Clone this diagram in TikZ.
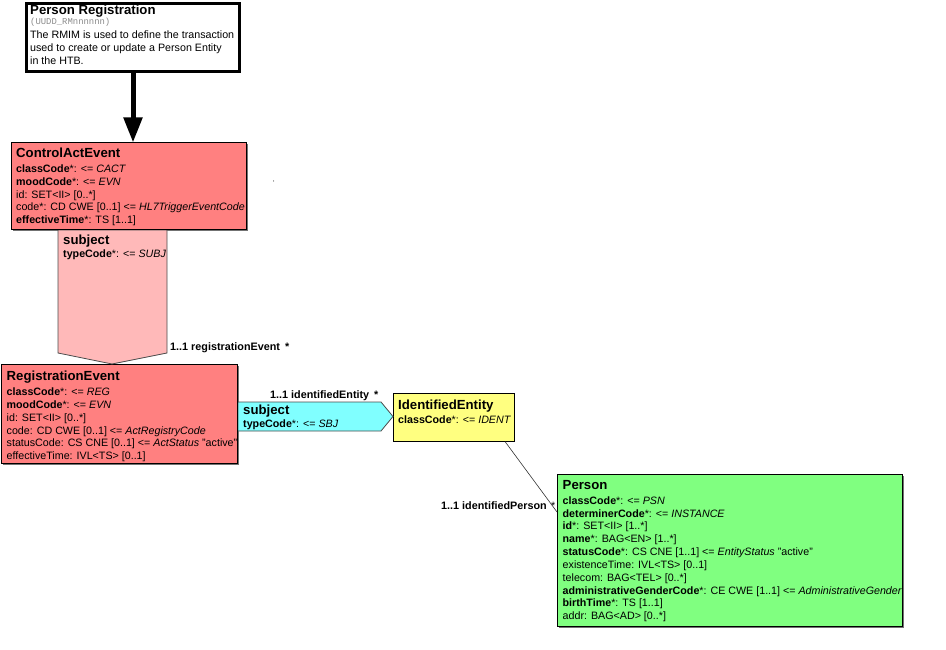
\documentclass[tikz,border=0pt]{standalone}
\usepackage{fontspec}
\setmainfont{Liberation Sans}
\newfontfamily\monof{Liberation Mono}
\usetikzlibrary{arrows.meta}
\definecolor{actred}{RGB}{255,128,128}
\definecolor{partpink}{RGB}{255,185,185}
\definecolor{roleyellow}{RGB}{255,255,128}
\definecolor{entgreen}{RGB}{128,255,128}
\definecolor{relcyan}{RGB}{128,255,255}
\tikzset{
  cls/.style={draw=black, line width=0.9pt, anchor=north west, inner sep=0pt, outer sep=0pt},
  shadowbox/.style={fill=black!55, draw=none, anchor=north west, inner sep=0pt},
  ttl/.style={font=\fontsize{13.2}{15}\selectfont\bfseries, anchor=base west, inner sep=0pt},
  att/.style={font=\fontsize{10.7}{12}\selectfont, anchor=base west, inner sep=0pt},
  rel/.style={draw=black!70, line width=0.8pt},
  lbl/.style={font=\fontsize{10.8}{12}\selectfont\bfseries, anchor=base west, inner sep=0pt},
}
\begin{document}
\begin{tikzpicture}[x=1pt,y=-1pt]
\useasboundingbox (0,0) rectangle (946,650);

% ---- Person Registration header box
\node[draw=black, line width=3pt, fill=white, anchor=north west, inner sep=0pt,
      minimum width=213pt, minimum height=68pt] (pr) at (25,2) {};
\node[ttl] (prt) at (30,14.5) {Person Registration};
\node[font=\monof\fontsize{8.9}{10}\selectfont, text=black!45, anchor=base west, inner sep=0pt] (prid) at (30,25) {(UUDD\_RMnnnnnn)};
\node[att] (prd1) at (30,38.5) {The RMIM is used to define the transaction};
\node[att] (prd2) at (30,51.5) {used to create or update a Person Entity};
\node[att] (prd3) at (30,64.5) {in the HTB.};

% ---- ControlActEvent
\node[shadowbox, minimum width=235pt, minimum height=87pt] (caes) at (12.5,144) {};
\node[cls, fill=actred, minimum width=235pt, minimum height=87pt] (cae) at (11,142.5) {};
\node[ttl] (caet) at (16,158) {ControlActEvent};
\node[att] (cae1) at (16,173) {\textbf{classCode}*: <= \textit{CACT}};
\node[att] (cae2) at (16,185.8) {\textbf{moodCode}*: <= \textit{EVN}};
\node[att] (cae3) at (16,198.3) {id: SET<II> [0..*]};
\node[att] (cae4) at (16,210.9) {code*: CD CWE [0..1] <= \textit{HL7TriggerEventCode}};
\node[att] (cae5) at (16,223.5) {\textbf{effectiveTime}*: TS [1..1]};

% ---- thick arrow
\draw[line width=5pt, -{Triangle[length=25pt,width=18pt]}] (pr.south) -- (pr.south |- cae.north);

% ---- RegistrationEvent
\node[shadowbox, minimum width=236pt, minimum height=99pt] (res) at (2.5,365.5) {};
\node[cls, fill=actred, minimum width=236pt, minimum height=99pt] (re) at (1,364) {};
\node[ttl] (ret) at (6.5,380) {RegistrationEvent};
\node[att] (re1) at (6.5,395.8) {\textbf{classCode}*: <= \textit{REG}};
\node[att] (re2) at (6.5,408.5) {\textbf{moodCode}*: <= \textit{EVN}};
\node[att] (re3) at (6.5,421.2) {id: SET<II> [0..*]};
\node[att] (re4) at (6.5,434) {code: CD CWE [0..1] <= \textit{ActRegistryCode}};
\node[att] (re5) at (6.5,446.7) {statusCode: CS CNE [0..1] <= \textit{ActStatus} "active"};
\node[att] (re6) at (6.5,459.4) {effectiveTime: IVL<TS> [0..1]};

% ---- subject participation (pink, pointing down)
\coordinate (pa) at (58,230);
\coordinate (pb) at (167,230);
\coordinate (pc) at (167,353);
\coordinate (ptip) at (112,364);
\coordinate (pd) at (58,353);
\draw[rel, fill=partpink] (pa) -- (pb) -- (pc) -- (ptip) -- (pd) -- cycle;
\draw[line width=0.9pt] (cae.south west) -- (cae.south east);
\node[ttl] (subj1) at (63,244) {subject};
\node[att] (subj1a) at (63,257.8) {\textbf{typeCode}*: <= \textit{SUBJ}};
\node[lbl] (subj1l) at (170,350.5) {1..1 registrationEvent\hspace{5pt}*};

% ---- IdentifiedEntity
\node[cls, fill=roleyellow, minimum width=121pt, minimum height=48pt] (ie) at (393,393.5) {};
\node[ttl] (iet) at (398,409.5) {IdentifiedEntity};
\node[att] (ie1) at (398,423.5) {\textbf{classCode}*: <= \textit{IDENT}};

% ---- subject (cyan, pointing right)
\coordinate (ca) at (238,402);
\coordinate (cb) at (381,402);
\coordinate (ctip) at (393,416.5);
\coordinate (cc) at (381,431);
\coordinate (cd) at (238,431);
\draw[rel, fill=relcyan] (ca) -- (cb) -- (ctip) -- (cc) -- (cd) -- cycle;
\draw[line width=0.9pt] (re.north east) -- (re.south east);
\node[ttl] (subj2) at (243,414.5) {subject};
\node[att] (subj2a) at (243,427.8) {\textbf{typeCode}*: <= \textit{SBJ}};
\node[lbl] (subj2l) at (270,398.5) {1..1 identifiedEntity\hspace{5pt}*};

% ---- Person
\node[shadowbox, minimum width=345pt, minimum height=152pt] (ps) at (558.5,475.5) {};
\node[cls, fill=entgreen, minimum width=345pt, minimum height=152pt] (p) at (557,474) {};
\node[ttl] (pt) at (562.5,489.5) {Person};
\node[att] (p1) at (562.5,504.2) {\textbf{classCode}*: <= \textit{PSN}};
\node[att] (p2) at (562.5,517) {\textbf{determinerCode}*: <= \textit{INSTANCE}};
\node[att] (p3) at (562.5,529.9) {\textbf{id}*: SET<II> [1..*]};
\node[att] (p4) at (562.5,542.7) {\textbf{name}*: BAG<EN> [1..*]};
\node[att] (p5) at (562.5,555.5) {\textbf{statusCode}*: CS CNE [1..1] <= \textit{EntityStatus} "active"};
\node[att] (p6) at (562.5,568.4) {existenceTime: IVL<TS> [0..1]};
\node[att] (p7) at (562.5,581.2) {telecom: BAG<TEL> [0..*]};
\node[att] (p8) at (562.5,594) {\textbf{administrativeGenderCode}*: CE CWE [1..1] <= \textit{AdministrativeGender}};
\node[att] (p9) at (562.5,606.8) {\textbf{birthTime}*: TS [1..1]};
\node[att] (p10) at (562.5,619.7) {addr: BAG<AD> [0..*]};

% ---- association IdentifiedEntity -> Person
\coordinate (pinref) at (0,512);
\draw[black!80, line width=0.6pt] (ie.south west) ++(112,0) coordinate (iex) -- (p.west |- pinref) coordinate (pin);
\node[lbl] (ipl) at (441,509) {1..1 identifiedPerson};
\node[font=\fontsize{10.7}{12}\selectfont, anchor=base west, inner sep=0pt] (ipstar) at (551,509) {*};

% stray dot
\fill[black] (273.5,181) circle (0.5pt);
\end{tikzpicture}
\end{document}
